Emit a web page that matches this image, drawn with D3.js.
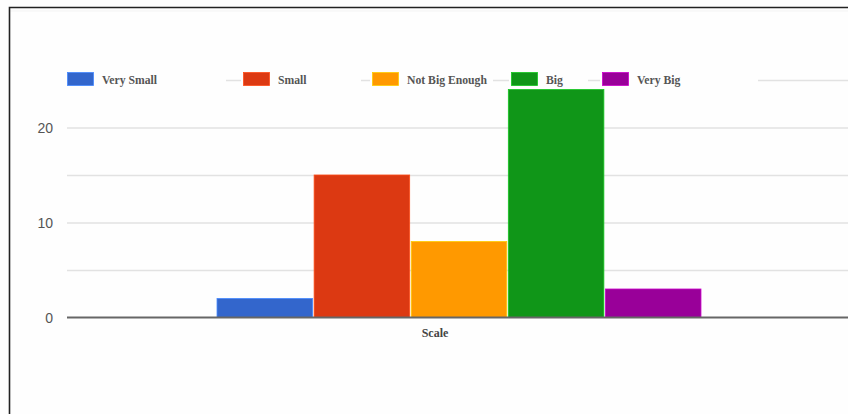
<!DOCTYPE html>
<html>
<head>
<meta charset="utf-8">
<script src="https://cdn.jsdelivr.net/npm/d3@7/dist/d3.min.js"></script>
<style>
  html, body { margin: 0; padding: 0; background: #ffffff; }
  svg { display: block; }
</style>
</head>
<body>
<svg id="chart" width="848" height="414"></svg>
<script>
// Survey responses for the "Scale" question
const categories = ["Scale"];
const seriesNames = ["Very Small", "Small", "Not Big Enough", "Big", "Very Big"];
const seriesValues = [2, 15, 8, 24, 3];
const seriesColors = ["#3366cc", "#dc3912", "#ff9900", "#109618", "#990099"];
const tickLabels = [0, 10, 20];
const gridValues = [5, 10, 15, 20, 25];

const svg = d3.select("#chart");
const W = 848, H = 414;

// frame
svg.append("rect").attr("x", 0).attr("y", 0).attr("width", W).attr("height", H).attr("fill", "#fefefe");
svg.append("line").attr("x1", 9).attr("x2", W).attr("y1", 11).attr("y2", 11)
  .attr("stroke", "#f3f3f3").attr("stroke-width", 1);
svg.append("path").attr("d", `M9.5,${H} V7.5 H${W}`)
  .attr("fill", "none").attr("stroke", "#222").attr("stroke-width", 1.6);

const plot = { left: 67, right: 851 };

const y = d3.scaleLinear().domain([0, 25]).range([317.5, 80]);

const x0 = d3.scaleBand().domain(categories).range([plot.left, plot.right]).paddingOuter(0.31).paddingInner(0);
const x1 = d3.scaleBand().domain(seriesNames).range([0, x0.bandwidth()]).paddingInner(0.016);

// gridlines
const grid = svg.append("g").attr("transform", `translate(${plot.left},0)`)
  .call(d3.axisRight(y).tickValues(gridValues).tickSize(plot.right - plot.left).tickFormat(""));
grid.select(".domain").remove();
grid.selectAll("line").attr("stroke", "#e2e2e2").attr("stroke-width", 1.3);

// y tick labels
const yAxis = svg.append("g").attr("transform", `translate(${plot.left},0)`)
  .call(d3.axisLeft(y).tickValues(tickLabels).tickSize(0).tickPadding(14).tickFormat(d3.format("d")));
yAxis.select(".domain").remove();
yAxis.selectAll("text")
  .attr("font-family", "Liberation Sans, Arial, sans-serif")
  .attr("font-size", 14)
  .attr("fill", "#555")
  .attr("dy", "0.38em");

// bars
const data = seriesNames.map((name, i) => ({ name, value: seriesValues[i], color: seriesColors[i] }));
const group = svg.append("g").attr("transform", `translate(${x0(categories[0])},0)`);
group.selectAll("rect").data(data).join("rect")
  .attr("x", d => x1(d.name))
  .attr("y", d => y(d.value))
  .attr("width", x1.bandwidth())
  .attr("height", d => y(0) - y(d.value))
  .attr("fill", d => d.color)
  .attr("stroke", d => d3.color(d.color).brighter(0.8))
  .attr("stroke-width", 0.8);

// baseline
svg.append("line").attr("x1", plot.left).attr("x2", W).attr("y1", y(0)).attr("y2", y(0))
  .attr("stroke", "#666").attr("stroke-width", 2);

// category label
svg.append("text")
  .attr("x", x0(categories[0]) + x0.bandwidth() / 2 - 24)
  .attr("y", 337)
  .attr("text-anchor", "middle")
  .attr("font-family", "Liberation Serif, Times New Roman, serif")
  .attr("font-weight", "bold")
  .attr("font-size", 12)
  .attr("fill", "#444")
  .text(categories[0]);

// legend: each entry sits in a white cell over the top gridline
const legendX = [67, 243, 372, 511, 602];
const legendCell = [161, 120, 123, 79, 158];
const legend = svg.append("g");
const items = legend.selectAll("g").data(data).join("g")
  .attr("transform", (d, i) => `translate(${legendX[i]},72)`);
items.append("rect").attr("x", -2).attr("y", -2).attr("width", (d, i) => legendCell[i]).attr("height", 18)
  .attr("fill", "#fefefe");
items.append("rect").attr("x", 0.5).attr("y", 0.5).attr("width", 26).attr("height", 13)
  .attr("fill", d => d.color)
  .attr("stroke", d => d3.color(d.color).brighter(0.8)).attr("stroke-width", 0.8);
items.append("text")
  .attr("x", 35).attr("y", 12)
  .attr("font-family", "Liberation Serif, Times New Roman, serif")
  .attr("font-weight", "bold")
  .attr("font-size", 11.7)
  .attr("fill", "#555")
  .text(d => d.name);
</script>
</body>
</html>
